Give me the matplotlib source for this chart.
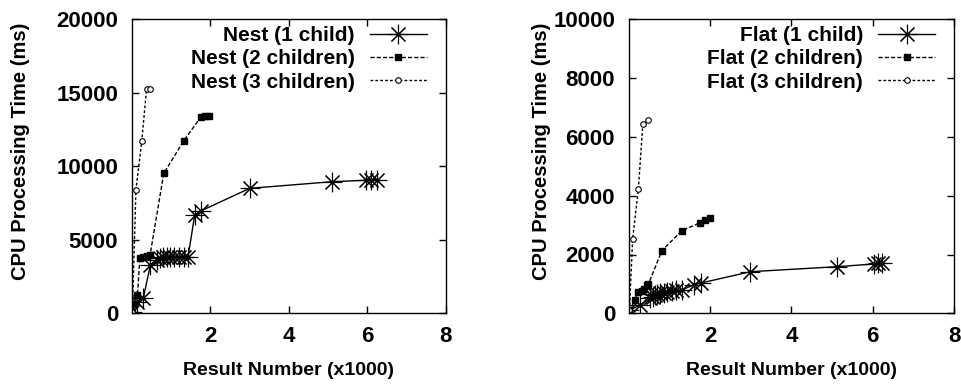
import matplotlib
matplotlib.use("Agg")
from matplotlib import pyplot as plt

plt.rcParams["font.family"] = ["Liberation Sans", "DejaVu Sans"]
plt.rcParams["font.weight"] = "bold"
plt.rcParams["font.size"] = 14

# Nest data (x in thousands of results, y in ms)
nest1_x = [0.01, 0.12, 0.29, 0.47, 0.63, 0.72, 0.80, 0.88, 0.98, 1.08, 1.20, 1.32, 1.43, 1.60, 1.77, 3.0, 5.09, 5.96, 6.1, 6.26]
nest1_y = [100, 790, 1060, 3290, 3650, 3750, 3800, 3820, 3840, 3850, 3850, 3860, 3860, 6690, 6980, 8500, 8950, 9050, 9080, 9100]
nest2_x = [0.01, 0.06, 0.14, 0.20, 0.29, 0.39, 0.46, 0.81, 1.32, 1.75, 1.85, 1.97]
nest2_y = [100, 630, 1245, 3740, 3850, 3900, 3950, 9520, 11740, 13330, 13400, 13400]
nest3_x = [0.01, 0.10, 0.25, 0.37, 0.47]
nest3_y = [100, 8390, 11740, 15240, 15240]

# Flat data
flat1_x = [0.01, 0.27, 0.52, 0.58, 0.64, 0.70, 0.77, 0.85, 0.94, 1.05, 1.15, 1.31, 1.60, 1.77, 2.99, 5.12, 6.02, 6.12, 6.22]
flat1_y = [100, 280, 510, 570, 620, 650, 680, 700, 730, 760, 780, 800, 970, 1030, 1415, 1585, 1677, 1700, 1720]
flat2_x = [0.01, 0.15, 0.21, 0.31, 0.38, 0.44, 0.48, 0.81, 1.30, 1.75, 1.88, 2.0]
flat2_y = [100, 450, 725, 770, 840, 950, 1000, 2130, 2810, 3080, 3180, 3230]
flat3_x = [0.01, 0.09, 0.23, 0.34, 0.47]
flat3_y = [100, 2530, 4220, 6430, 6570]

star = (8, 2, 0)

fig = plt.figure(figsize=(9.62, 3.85), dpi=100)
ax1 = fig.add_axes([132 / 962, 1 - 313.3 / 385, 313.7 / 962, 294 / 385])
ax2 = fig.add_axes([629 / 962, 1 - 313.3 / 385, 325 / 962, 294 / 385])


def draw(ax, name, s1, s2, s3, ymax, ystep, ylab_x):
    ax.plot(*s1, color="black", lw=1, marker=star, ms=14, mew=0.8,
            label=name + " (1 child)")
    ax.plot(*s2, color="black", lw=1, ls=(0, (3, 1.5)), marker="s", ms=5,
            label=name + " (2 children)")
    ax.plot(*s3, color="black", lw=1, ls=(0, (2, 1.5)), marker="o", ms=4,
            mfc="white", mew=0.8, label=name + " (3 children)")
    ax.set_xlim(0, 8)
    ax.set_ylim(0, ymax)
    ax.set_xticks([2, 4, 6, 8])
    ax.set_yticks(range(0, ymax + 1, ystep))
    ax.tick_params(direction="in", length=5, width=1, top=True, right=True,
                   labeltop=False, labelright=False, labelsize=16)
    ax.tick_params(axis="y", pad=10)
    ax.tick_params(axis="x", pad=9)
    for sp in ax.spines.values():
        sp.set_linewidth(1)
    ax.set_xlabel("Result Number (x1000)", fontweight="bold", va="center")
    ax.set_ylabel("CPU Processing Time (ms)", fontweight="bold", va="center",
                  fontsize=14.5)
    ax.xaxis.set_label_coords(0.5, -0.194)
    ax.yaxis.set_label_coords(ylab_x, 0.55)
    ax.legend(loc="upper right", frameon=False, markerfirst=False,
              handlelength=2.75, handletextpad=0.72, labelspacing=0.2,
              borderaxespad=0.5, fontsize=15, bbox_to_anchor=(1, 1.04))


draw(ax1, "Nest", (nest1_x, nest1_y), (nest2_x, nest2_y), (nest3_x, nest3_y), 20000, 5000, -0.355)
draw(ax2, "Flat", (flat1_x, flat1_y), (flat2_x, flat2_y), (flat3_x, flat3_y), 10000, 2000, -0.268)

fig.savefig("out.png", dpi=100)
